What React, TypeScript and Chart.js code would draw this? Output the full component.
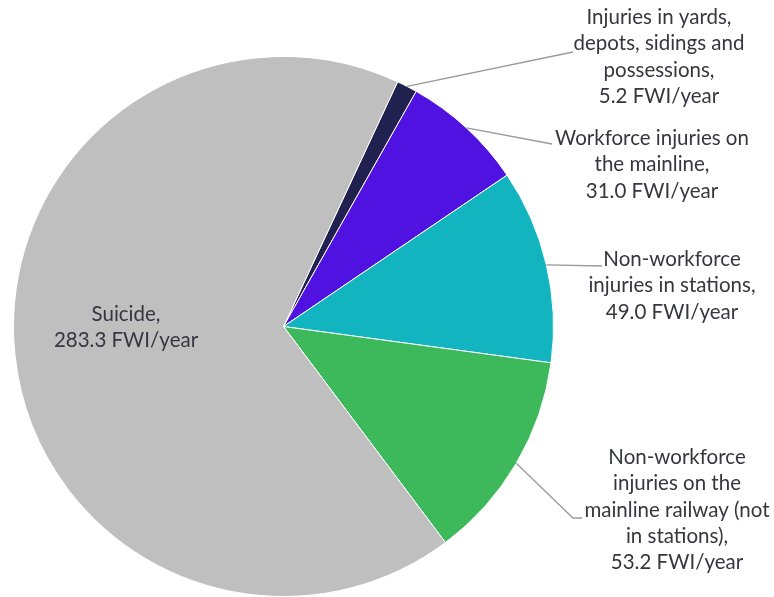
import React, { useEffect, useRef } from "react";
import { Chart, registerables } from "chart.js";

Chart.register(...registerables);

const categories = [
  "Injuries in yards, depots, sidings and possessions",
  "Workforce injuries on the mainline",
  "Non-workforce injuries in stations",
  "Non-workforce injuries on the mainline railway (not in stations)",
  "Suicide",
];
const values = [5.2, 31.0, 49.0, 53.2, 283.3];
const colors = ["#21214f", "#5012e0", "#12b4bf", "#3db85a", "#bfbfbf"];
const labelLines = [
  ["Injuries in yards,", "depots, sidings and", "possessions,"],
  ["Workforce injuries on", "the mainline,"],
  ["Non-workforce", "injuries in stations,"],
  ["Non-workforce", "injuries on the", "mainline railway (not", "in stations),"],
  ["Suicide,"],
];
const unit = "FWI/year";

// label layout: text centre x, first baseline y, leader path points (after arc edge)
const labelLayout = [
  { x: 659, y: 24, path: [[573, 52]] },
  { x: 652, y: 145, path: [[552, 144]] },
  { x: 672, y: 266, path: [[602, 266]] },
  { x: 677, y: 464, path: [[573, 518], [582, 518]] },
  { x: 126, y: 321, path: [] },
];
const LINE_H = 26.3;
const FONT = "20.5px Lato";

const labelPlugin = {
  id: "pieLabels",
  afterDatasetsDraw(chart: any) {
    const ctx = chart.ctx;
    const meta = chart.getDatasetMeta(0);
    ctx.save();
    meta.data.forEach((arc: any, i: number) => {
      const lay = labelLayout[i];
      const p = arc.getProps(["x", "y", "startAngle", "endAngle", "outerRadius"], true);
      if (lay.path.length) {
        const mid = (p.startAngle + p.endAngle) / 2;
        const sx = p.x + Math.cos(mid) * p.outerRadius;
        const sy = p.y + Math.sin(mid) * p.outerRadius;
        ctx.beginPath();
        ctx.strokeStyle = "#9a9a9a";
        ctx.lineWidth = 1.3;
        ctx.moveTo(sx, sy);
        lay.path.forEach((pt: number[]) => ctx.lineTo(pt[0], pt[1]));
        ctx.stroke();
      }
      const lines = [...labelLines[i], `${values[i].toFixed(1)} ${unit}`];
      ctx.fillStyle = "#363640";
      ctx.font = FONT;
      ctx.textAlign = "center";
      ctx.textBaseline = "alphabetic";
      lines.forEach((t, k) => ctx.fillText(t, lay.x, lay.y + k * LINE_H));
    });
    ctx.restore();
  },
};

export default function App() {
  const ref = useRef<HTMLCanvasElement>(null);
  useEffect(() => {
    document.body.style.margin = "0";
    const chart = new Chart(ref.current as HTMLCanvasElement, {
      type: "pie",
      data: {
        labels: categories,
        datasets: [
          {
            data: values,
            backgroundColor: colors,
            borderColor: "#ffffff",
            borderWidth: 1,
          },
        ],
      },
      options: {
        responsive: false,
        animation: false,
        rotation: 25,
        layout: { padding: { left: 13, top: 56, right: 220, bottom: 0 } },
        plugins: { legend: { display: false }, tooltip: { enabled: false } },
      },
      plugins: [labelPlugin],
    });
    return () => chart.destroy();
  }, []);
  return (
    <div style={{ width: 774, height: 597, background: "#fff" }}>
      <canvas ref={ref} width={774} height={597} />
    </div>
  );
}
